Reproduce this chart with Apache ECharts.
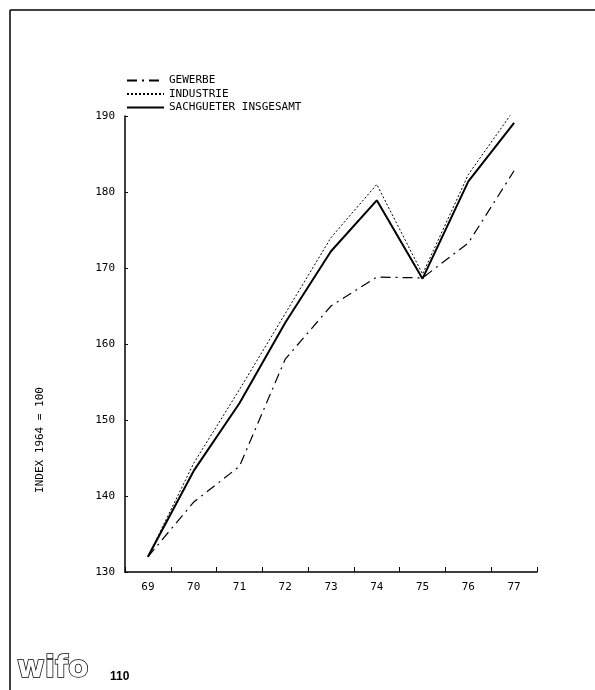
<!DOCTYPE html>
<html>
<head>
<meta charset="utf-8">
<script src="https://cdn.jsdelivr.net/npm/echarts@6/dist/echarts.min.js"></script>
<style>
html,body{margin:0;padding:0;background:#fff;}
#c{width:595px;height:690px;}
</style>
</head>
<body>
<div id="c"></div>
<script>
var years = ['69','70','71','72','73','74','75','76','77'];
var gewerbe = [132.0, 139.2, 143.9, 158.0, 165.0, 168.8, 168.7, 173.3, 182.8];
var industrie = [132.0, 144.3, 154.0, 164.0, 174.0, 181.0, 169.2, 182.3, 190.8];
var sachgueter = [132.0, 143.3, 152.2, 162.8, 172.2, 178.9, 168.6, 181.4, 189.1];
var yTicks = {min: 130, max: 190, interval: 10};
var names = ['GEWERBE', 'INDUSTRIE', 'SACHGUETER INSGESAMT'];
var yTitle = 'INDEX 1964 = 100';

var FONT = '"DejaVu Sans Mono", monospace';
var chart = echarts.init(document.getElementById('c'), null, {renderer: 'canvas'});
chart.setOption({
  backgroundColor: '#fff',
  animation: false,
  grid: {left: 125, right: 58, top: 116, bottom: 118},
  legend: {
    show: true,
    orient: 'vertical',
    left: 121, top: 70,
    itemWidth: 37, itemHeight: 12, itemGap: 2.5,
    itemStyle: {opacity: 0},
    textStyle: {fontFamily: FONT, fontSize: 11, color: '#000'},
    data: names
  },
  xAxis: {
    type: 'category',
    data: years,
    boundaryGap: true,
    axisLine: {lineStyle: {color: '#000', width: 1.5}},
    axisTick: {show: true, length: 5, inside: true, lineStyle: {color: '#000'}},
    axisLabel: {fontFamily: FONT, fontSize: 11, color: '#000', margin: 10},
    splitLine: {show: false}
  },
  yAxis: {
    type: 'value',
    min: yTicks.min, max: yTicks.max, interval: yTicks.interval,
    axisLine: {show: true, lineStyle: {color: '#000', width: 1.5}},
    axisTick: {show: true, length: 3, inside: true, lineStyle: {color: '#000'}},
    axisLabel: {fontFamily: FONT, fontSize: 11, color: '#000', margin: 10},
    splitLine: {show: false}
  },
  graphic: [
    {type: 'line', shape: {x1: 10, y1: 10, x2: 595, y2: 10}, style: {stroke: '#000', lineWidth: 1.5}},
    {type: 'line', shape: {x1: 10, y1: 10, x2: 10, y2: 690}, style: {stroke: '#000', lineWidth: 1.5}},
    {type: 'text', x: 40, y: 440, rotation: Math.PI/2, style: {text: yTitle, font: '11px ' + FONT, fill: '#000', textAlign: 'center', textVerticalAlign: 'middle'}},
    {type: 'text', x: 17, y: 654, style: {text: 'wifo', font: 'bold 30px "DejaVu Sans"', fill: '#fff', stroke: '#000', lineWidth: 1.5}},
    {type: 'text', x: 110, y: 671, style: {text: '110', font: 'bold 12px "Liberation Sans"', fill: '#000'}}
  ],
  series: [
    {name: names[0], type: 'line', data: gewerbe, symbol: 'none', showSymbol: false,
     itemStyle: {color: '#000'},
     lineStyle: {color: '#000', width: 1.2, type: [10, 5, 2, 5]}},
    {name: names[1], type: 'line', data: industrie, symbol: 'none', showSymbol: false,
     itemStyle: {color: '#000'},
     lineStyle: {color: '#000', width: 1, type: [2, 2]}},
    {name: names[2], type: 'line', data: sachgueter, symbol: 'none', showSymbol: false,
     itemStyle: {color: '#000'},
     lineStyle: {color: '#000', width: 2, type: 'solid'}}
  ]
});
</script>
</body>
</html>
